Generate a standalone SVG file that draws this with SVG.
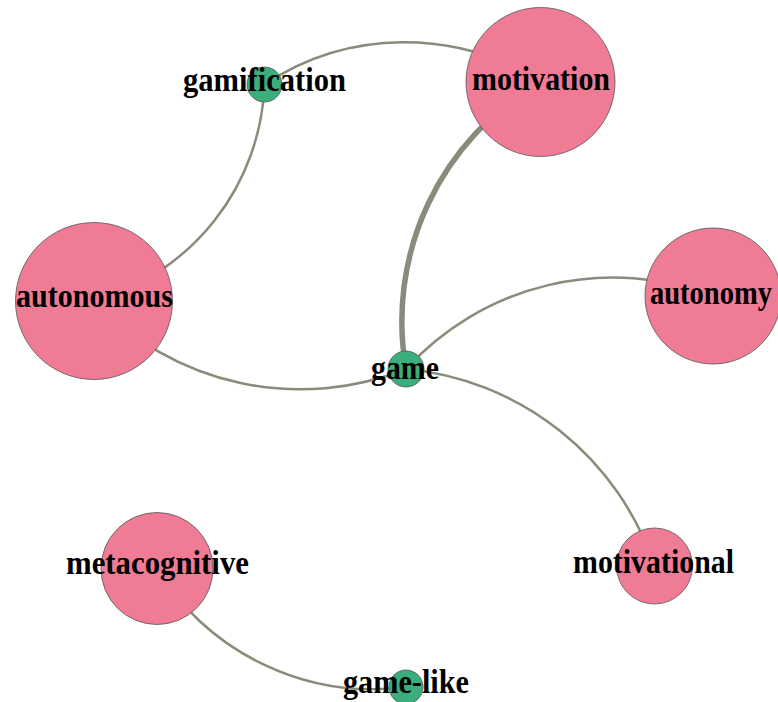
<svg xmlns="http://www.w3.org/2000/svg" width="778" height="702" viewBox="0 0 778 702">
<style>
.e{fill:none;stroke:#8b8b7b;stroke-width:2.5}
.t{stroke-width:5.5}
.p{fill:#ef7b94;stroke:#555;stroke-width:0.8}
.g{fill:#3cad7c;stroke:#555;stroke-width:0.8}
.l{font-family:"Liberation Serif","Times New Roman",serif;font-weight:bold;font-size:33px;fill:#000}
</style>
<rect width="778" height="702" fill="#fff"/>
<g id="edges">
<path class="e" d="M264.5,84.5 A253,253 0 0 1 540.5,82"/>
<path class="e" d="M264.5,84.5 A234,234 0 0 1 94,301"/>
<path class="e t" d="M540.5,82 A276,276 0 0 0 406,369"/>
<path class="e" d="M94,301 A285,285 0 0 0 406,369"/>
<path class="e" d="M406,369 A280,280 0 0 1 713,296"/>
<path class="e" d="M406,369 A290,290 0 0 1 654.5,566"/>
<path class="e" d="M157,568.5 A253,253 0 0 0 406,687"/>
</g>
<g id="motivation"><circle class="p" cx="540.5" cy="82" r="74.5"/><text class="l" x="472" y="90" textLength="138" lengthAdjust="spacingAndGlyphs">motivation</text></g>
<g id="gamification"><circle class="g" cx="264.5" cy="84.5" r="17.5"/><text class="l" x="183" y="91" textLength="163" lengthAdjust="spacingAndGlyphs">gamification</text></g>
<g id="autonomous"><circle class="p" cx="94" cy="301" r="78.5"/><text class="l" x="16" y="307" textLength="157" lengthAdjust="spacingAndGlyphs">autonomous</text></g>
<g id="autonomy"><circle class="p" cx="713" cy="296" r="68"/><text class="l" x="650" y="304" textLength="122" lengthAdjust="spacingAndGlyphs">autonomy</text></g>
<g id="game"><circle class="g" cx="406" cy="369" r="18"/><text class="l" x="371" y="379" textLength="68" lengthAdjust="spacingAndGlyphs">game</text></g>
<g id="motivational"><circle class="p" cx="654.5" cy="566" r="38"/><text class="l" x="573" y="573" textLength="161" lengthAdjust="spacingAndGlyphs">motivational</text></g>
<g id="metacognitive"><circle class="p" cx="157" cy="568.5" r="56"/><text class="l" x="66" y="574" textLength="183" lengthAdjust="spacingAndGlyphs">metacognitive</text></g>
<g id="game-like"><circle class="g" cx="406" cy="687" r="17"/><text class="l" x="343" y="693" textLength="126" lengthAdjust="spacingAndGlyphs">game-like</text></g>
</svg>
